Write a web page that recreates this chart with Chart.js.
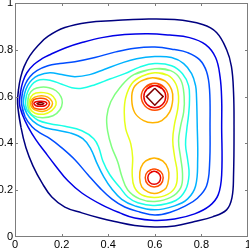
<!DOCTYPE html>
<html>
<head>
<meta charset="utf-8">
<script src="https://cdn.jsdelivr.net/npm/chart.js@4.4.1/dist/chart.umd.min.js"></script>
<style>
  html, body { margin:0; padding:0; background:#fff; }
  #graph { display:block; }
</style>
</head>
<body>
<canvas id="graph" width="249" height="250"></canvas>
<script>
/* axes */
const tickValues = [0, 0.2, 0.4, 0.6, 0.8, 1];
const tickLabels = ['0', '0.2', '0.4', '0.6', '0.8', '1'];

/* contour lines, outermost level first ([x, y] pairs) */
const level1 = [[0.011,0.570],[0.015,0.630],[0.024,0.681],[0.039,0.728],[0.064,0.775],[0.099,0.818],[0.141,0.857],[0.214,0.895],[0.313,0.917],[0.428,0.925],[0.544,0.931],[0.685,0.929],[0.805,0.908],[0.865,0.874],[0.908,0.801],[0.929,0.728],[0.938,0.617],[0.940,0.480],[0.938,0.266],[0.931,0.167],[0.908,0.116],[0.848,0.086],[0.771,0.066],[0.685,0.047],[0.600,0.043],[0.514,0.049],[0.428,0.066],[0.364,0.081],[0.287,0.103],[0.214,0.128],[0.158,0.171],[0.116,0.231],[0.077,0.304],[0.047,0.381],[0.026,0.467],[0.011,0.570]];
const level2 = [[0.019,0.570],[0.024,0.621],[0.034,0.664],[0.051,0.702],[0.081,0.737],[0.116,0.762],[0.150,0.779],[0.218,0.809],[0.287,0.831],[0.373,0.852],[0.471,0.865],[0.570,0.869],[0.664,0.863],[0.749,0.852],[0.818,0.822],[0.861,0.767],[0.880,0.685],[0.887,0.587],[0.887,0.480],[0.887,0.266],[0.872,0.180],[0.835,0.133],[0.771,0.099],[0.685,0.077],[0.600,0.071],[0.514,0.081],[0.450,0.103],[0.373,0.137],[0.287,0.188],[0.227,0.240],[0.171,0.308],[0.128,0.364],[0.090,0.415],[0.056,0.471],[0.032,0.522],[0.019,0.570]];
const level3 = [[0.028,0.570],[0.032,0.617],[0.045,0.655],[0.064,0.685],[0.094,0.711],[0.141,0.732],[0.193,0.741],[0.257,0.749],[0.343,0.767],[0.428,0.790],[0.514,0.807],[0.600,0.812],[0.685,0.801],[0.741,0.788],[0.792,0.758],[0.822,0.707],[0.835,0.630],[0.837,0.480],[0.835,0.308],[0.822,0.218],[0.784,0.167],[0.732,0.133],[0.664,0.105],[0.600,0.094],[0.535,0.107],[0.471,0.128],[0.415,0.163],[0.364,0.210],[0.313,0.266],[0.257,0.330],[0.201,0.381],[0.150,0.420],[0.107,0.445],[0.073,0.471],[0.043,0.514],[0.028,0.570]];
const level4 = [[0.036,0.570],[0.041,0.612],[0.054,0.647],[0.073,0.672],[0.099,0.690],[0.150,0.702],[0.201,0.694],[0.257,0.685],[0.321,0.694],[0.385,0.717],[0.450,0.741],[0.522,0.762],[0.600,0.771],[0.672,0.767],[0.724,0.741],[0.758,0.698],[0.775,0.647],[0.779,0.600],[0.782,0.480],[0.784,0.330],[0.775,0.218],[0.741,0.163],[0.685,0.133],[0.600,0.116],[0.514,0.133],[0.458,0.161],[0.415,0.206],[0.381,0.257],[0.351,0.317],[0.325,0.377],[0.291,0.420],[0.236,0.445],[0.171,0.458],[0.116,0.471],[0.077,0.495],[0.051,0.527],[0.036,0.570]];
const level5 = [[0.045,0.570],[0.049,0.604],[0.062,0.636],[0.081,0.660],[0.107,0.672],[0.150,0.670],[0.201,0.653],[0.244,0.638],[0.287,0.636],[0.343,0.651],[0.407,0.675],[0.471,0.698],[0.535,0.726],[0.600,0.741],[0.672,0.732],[0.719,0.698],[0.745,0.647],[0.749,0.587],[0.745,0.522],[0.737,0.458],[0.732,0.394],[0.741,0.330],[0.747,0.266],[0.732,0.201],[0.690,0.156],[0.600,0.135],[0.527,0.146],[0.484,0.171],[0.450,0.212],[0.407,0.266],[0.377,0.325],[0.360,0.381],[0.338,0.420],[0.287,0.454],[0.214,0.473],[0.150,0.484],[0.099,0.499],[0.069,0.522],[0.051,0.544],[0.045,0.570]];
const level6Left = [[0.054,0.570],[0.060,0.608],[0.081,0.632],[0.111,0.640],[0.146,0.638],[0.176,0.625],[0.197,0.600],[0.203,0.574],[0.193,0.544],[0.163,0.518],[0.116,0.510],[0.077,0.520],[0.060,0.540],[0.054,0.570]];
const level6Mid = [[0.600,0.719],[0.668,0.711],[0.711,0.672],[0.726,0.600],[0.724,0.535],[0.711,0.475],[0.702,0.411],[0.711,0.338],[0.719,0.270],[0.711,0.210],[0.668,0.169],[0.600,0.152],[0.535,0.163],[0.484,0.201],[0.458,0.261],[0.441,0.321],[0.415,0.385],[0.398,0.450],[0.394,0.514],[0.411,0.578],[0.450,0.638],[0.510,0.694],[0.600,0.719]];
const level7Left = [[0.060,0.570],[0.069,0.600],[0.090,0.615],[0.124,0.617],[0.154,0.608],[0.173,0.587],[0.176,0.565],[0.158,0.540],[0.124,0.525],[0.086,0.529],[0.066,0.546],[0.060,0.570]];
const level7Mid = [[0.600,0.702],[0.655,0.692],[0.690,0.655],[0.702,0.600],[0.698,0.544],[0.685,0.484],[0.677,0.415],[0.685,0.343],[0.696,0.278],[0.690,0.218],[0.655,0.182],[0.600,0.169],[0.544,0.180],[0.512,0.214],[0.503,0.270],[0.505,0.338],[0.497,0.398],[0.475,0.463],[0.469,0.531],[0.475,0.595],[0.501,0.655],[0.544,0.687],[0.600,0.702]];
const level8Left = [[0.066,0.570],[0.075,0.591],[0.099,0.602],[0.128,0.602],[0.150,0.591],[0.161,0.570],[0.148,0.548],[0.124,0.537],[0.094,0.540],[0.075,0.550],[0.066,0.570]];
const level8Upper = [[0.591,0.681],[0.642,0.668],[0.672,0.630],[0.677,0.587],[0.664,0.535],[0.630,0.497],[0.591,0.488],[0.552,0.497],[0.514,0.531],[0.501,0.587],[0.510,0.638],[0.544,0.668],[0.591,0.681]];
const level8Lower = [[0.597,0.338],[0.634,0.325],[0.657,0.291],[0.660,0.253],[0.649,0.210],[0.621,0.191],[0.597,0.186],[0.570,0.193],[0.544,0.214],[0.535,0.253],[0.540,0.296],[0.561,0.325],[0.597,0.338]];
const level9Left = [[0.073,0.570],[0.081,0.587],[0.107,0.593],[0.133,0.589],[0.148,0.570],[0.133,0.550],[0.107,0.546],[0.081,0.552],[0.073,0.570]];
const level9Upper = [[0.600,0.657],[0.640,0.640],[0.657,0.600],[0.640,0.559],[0.600,0.542],[0.559,0.559],[0.542,0.600],[0.559,0.640],[0.600,0.657]];
const level9Lower = [[0.597,0.291],[0.625,0.280],[0.636,0.253],[0.625,0.225],[0.597,0.214],[0.570,0.225],[0.559,0.253],[0.570,0.280],[0.597,0.291]];
const level10Left = [[0.081,0.570],[0.090,0.578],[0.109,0.580],[0.128,0.578],[0.137,0.570],[0.128,0.561],[0.109,0.559],[0.090,0.561],[0.081,0.570]];
const level10Upper = [[0.600,0.647],[0.633,0.633],[0.647,0.600],[0.633,0.566],[0.600,0.552],[0.567,0.566],[0.553,0.600],[0.567,0.633],[0.600,0.647]];
const level10Lower = [[0.597,0.281],[0.617,0.272],[0.625,0.253],[0.617,0.233],[0.597,0.225],[0.578,0.233],[0.570,0.253],[0.578,0.272],[0.597,0.281]];
const level11Left = [[0.094,0.570],[0.109,0.575],[0.124,0.570],[0.109,0.565],[0.094,0.570]];
const level11Upper = [[0.600,0.636],[0.636,0.600],[0.600,0.563],[0.564,0.600],[0.600,0.636]];

/* quel niveau pour chaque tracé (3e champ : tension, 0 = losange droit) */
const contours = [
  [1, level1], [2, level2], [3, level3], [4, level4], [5, level5],
  [6, level6Left], [6, level6Mid], [7, level7Left], [7, level7Mid],
  [8, level8Left], [8, level8Upper], [8, level8Lower],
  [9, level9Left], [9, level9Upper], [9, level9Lower],
  [10, level10Left], [10, level10Upper], [10, level10Lower],
  [11, level11Left], [11, level11Upper, 0],
];

/* jet colours, one per level */
const jet = ['#000080','#0000e6','#004dff','#00b3ff','#1affe6','#80ff80','#e6ff1a','#ffb300','#ff4d00','#e60000','#800000'];

const police = { family:"'Liberation Sans', Arial, sans-serif", size:11 };

/* courbe fermée : on recouvre un segment de chaque côté pour éviter le coin au point de départ */
function boucle(pts, tension){
  if(tension === 0) return pts;
  return [pts[pts.length - 2], ...pts, pts[1]];
}

/* boîte + graduations vers l'intérieur, comme matlab */
const boite = {
  id:'boite',
  afterDatasetsDraw(chart){
    const { ctx, chartArea:a, scales:{ x, y } } = chart;
    ctx.save();
    ctx.strokeStyle = '#7d7d7d'; ctx.lineWidth = 1;
    ctx.strokeRect(a.left + .5, a.top + .5, a.right - a.left - 1, a.bottom - a.top - 1);
    ctx.beginPath();
    tickValues.slice(1, -1).forEach(v => {
      const px = Math.round(x.getPixelForValue(v)) + .5;
      ctx.moveTo(px, a.bottom); ctx.lineTo(px, a.bottom - 3);
      ctx.moveTo(px, a.top); ctx.lineTo(px, a.top + 3);
      const py = Math.round(y.getPixelForValue(v)) + .5;
      ctx.moveTo(a.left, py); ctx.lineTo(a.left + 3, py);
      ctx.moveTo(a.right, py); ctx.lineTo(a.right - 3, py);
    });
    ctx.stroke();
    ctx.restore();
  }
};

new Chart(document.getElementById('graph'), {
  type:'scatter',
  data:{ datasets: contours.map(([lvl, pts, tension]) => {
    const t = tension === undefined ? 0.4 : tension;
    return { data: boucle(pts, t), showLine:true, borderColor: jet[lvl - 1], borderWidth:1.5,
      tension: t, pointRadius:0, fill:false };
  }) },
  options:{
    responsive:false, animation:false, devicePixelRatio:1,
    layout:{ padding:{ top:3, right:1, left:0, bottom:0 } },
    plugins:{ legend:{ display:false }, tooltip:{ enabled:false } },
    scales:{
      x:{ type:'linear', min:0, max:1,
        grid:{ display:false, drawTicks:false }, border:{ display:false },
        ticks:{ stepSize:0.2, padding:1, color:'#000', font:police, maxRotation:0, autoSkip:false,
          callback:(v, i) => tickLabels[i] },
        afterFit(s){ s.height = 13; s.paddingLeft = 0; s.paddingRight = 0; } },
      y:{ type:'linear', min:0, max:1,
        grid:{ display:false, drawTicks:false }, border:{ display:false },
        ticks:{ stepSize:0.2, padding:2, color:'#000', font:police, autoSkip:false,
          callback:(v, i) => tickLabels[i] },
        afterFit(s){ s.width = 15; s.paddingTop = 0; s.paddingBottom = 0; } },
    },
  },
  plugins:[boite],
});
</script>
</body>
</html>
